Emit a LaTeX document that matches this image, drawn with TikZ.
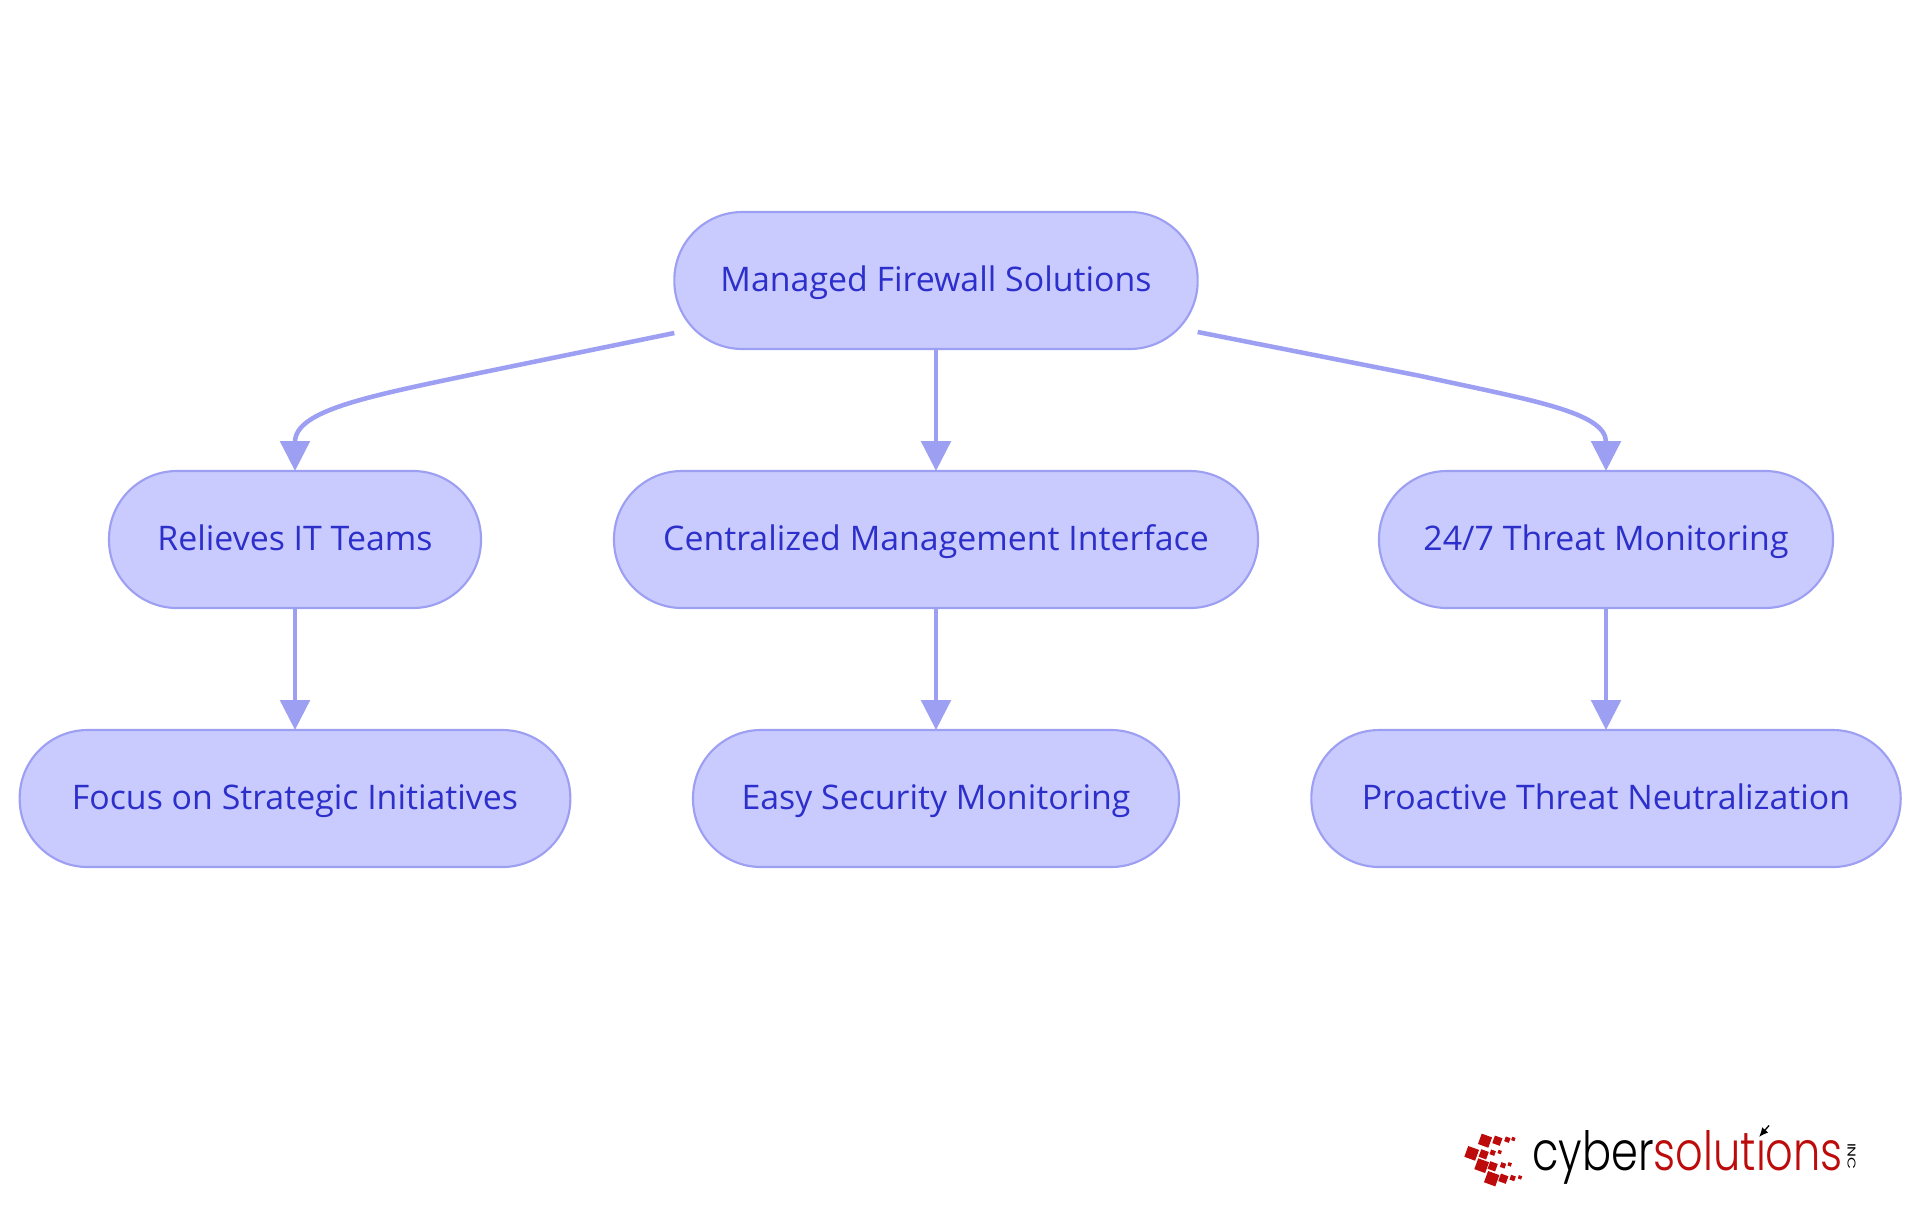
\documentclass[tikz,border=0pt]{standalone}
\usepackage{fontspec}
\usepackage{graphicx}
\usetikzlibrary{arrows.meta,calc}
\setmainfont{Open Sans}
\newfontfamily\logofont{Poppins Light}
\newfontfamily\incfont{Poppins}
\definecolor{nodefill}{HTML}{C9CBFF}
\definecolor{nodeline}{HTML}{9D9FF2}
\definecolor{nodetext}{HTML}{2D2FCB}
\definecolor{logored}{HTML}{BD0A0A}
\tikzset{
  x=0.75pt,y=-0.75pt,
  pill/.style={draw=nodeline,fill=nodefill,line width=1.6pt,rounded corners=51pt,outer sep=0pt,
    minimum height=102.75pt,inner sep=0pt,text height=22.5pt,text depth=6pt,text=nodetext,font=\fontsize{25.4}{28}\selectfont},
  link/.style={draw=nodeline,line width=3.4pt,-{Triangle[length=22.5pt,width=22pt]}},
  logosq/.style={fill=logored,rotate=-20,inner sep=0pt},
}
\begin{document}
\begin{tikzpicture}
\useasboundingbox (0,0) rectangle (1920,1215);
\node[pill,minimum width=392.5pt] (root) at (936,280.5) {Managed Firewall Solutions};
\node[pill,minimum width=279pt] (relieves) at (295,539.5) {Relieves IT Teams};
\node[pill,minimum width=483pt] (central) at (936,539.5) {Centralized Management Interface};
\node[pill,minimum width=340.5pt] (threat) at (1606,539.5) {24/7 Threat Monitoring};
\node[pill,minimum width=413pt] (focus) at (295,798.5) {Focus on Strategic Initiatives};
\node[pill,minimum width=364.5pt] (easy) at (936,798.5) {Easy Security Monitoring};
\node[pill,minimum width=442pt] (proactive) at (1606,798.5) {Proactive Threat Neutralization};
\draw[link] (root) -- (central);
\draw[link] (relieves) -- (focus);
\draw[link] (central) -- (easy);
\draw[link] (threat) -- (proactive);
\draw[link] ($(root.south east)+(0,-17)$) -- ($(root.south east)+(223,27)$) .. controls ($(threat.north)+(-76,-71)$) and ($(threat.north)+(0,-59)$) .. (threat.north);
\draw[link] ($(root.south west)+(0,-16)$) -- ($(root.south west)+(-195,24)$) .. controls ($(relieves.north)+(75,-75)$) and ($(relieves.north)+(0,-61)$) .. (relieves.north);
% logo
\foreach \nm/\cx/\cy/\s in {a1/135/122/11,a2/172/122/8,a3/202/119/5,a4/220/117/3.5,
 b1/95/160/11.5,b2/131/163/8,b3/158/158/5,b4/179/156/3.5,
 c1/125/197/11.5,c2/158/199/8,c3/189/196/5,c4/209/193/3.5,
 d1/155/236/12,d2/190/236/8,d3/218/234/5,d4/240/232/3.5}{
  \node[logosq,minimum size=\s*0.75pt] (\nm) at ({1440+\cx/3},{1100+\cy/3}) {};
}
\node[inner sep=0pt,anchor=base west] (logotext) at (1532,1170) {\resizebox{233pt}{30pt}{\logofont\color{black}cyber\color{logored}solut\i ons}};
\node[inner sep=0pt,rotate=-90] (inc) at (1851.5,1156.5) {\resizebox{20pt}{6pt}{\incfont INC}};
\coordinate (arrowtail) at (1769,1125.5);
\coordinate (arrowtip) at (1759,1137);
\draw[black,line width=1pt,-{Latex[length=7pt,width=6pt]}] (arrowtail) -- (arrowtip);
\end{tikzpicture}
\end{document}
